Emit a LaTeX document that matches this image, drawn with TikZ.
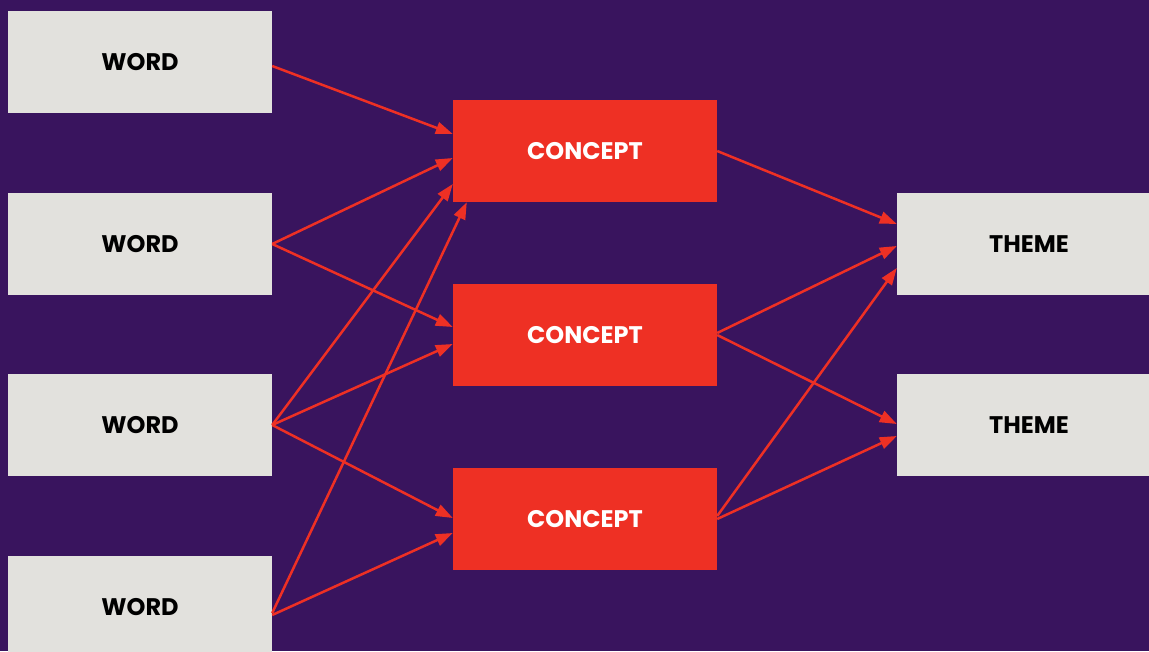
\documentclass[tikz,border=0pt]{standalone}
\usepackage{fontspec}
\setmainfont{Poppins}[BoldFont={Poppins Bold}]
\usetikzlibrary{arrows.meta,calc}
\definecolor{bgpurple}{HTML}{39145E}
\definecolor{linkred}{HTML}{EE3024}
\definecolor{cardgray}{HTML}{E2E1DD}
\tikzset{
  card/.style={rectangle, minimum width=264pt, minimum height=102pt, inner sep=0pt,
    font=\fontsize{24}{28}\selectfont\bfseries},
  wordbox/.style={card, fill=cardgray, text=black},
  conceptbox/.style={card, fill=linkred, text=white},
  themebox/.style={card, fill=cardgray, text=black},
  link/.style={draw=linkred, line width=2.5pt,
    -{Triangle[length=17pt,width=12pt]}}
}
\begin{document}
\begin{tikzpicture}[x=1pt,y=-1pt]
  \fill[bgpurple] (0,0) rectangle (1149,651);
  \useasboundingbox (0,0) rectangle (1149,651);
  \clip (0,0) rectangle (1149,651);

  % source words
  \node[wordbox] (w1) at (140,62) {WORD};
  \node[wordbox] (w2) at (140,244) {WORD};
  \node[wordbox] (w3) at (140,425) {WORD};
  \node[wordbox] (w4) at (140,607) {WORD};

  % concepts
  \node[conceptbox] (c1) at (585,151) {CONCEPT};
  \node[conceptbox] (c2) at (585,335) {CONCEPT};
  \node[conceptbox] (c3) at (585,519) {CONCEPT};

  % themes
  \node[themebox] (t1) at (1029,244) {THEME};
  \node[themebox] (t2) at (1029,425) {THEME};

  % word -> concept links
  \draw[link] ($(w1.east)+(0,4)$) -- ($(c1.west)+(0,-17)$);
  \draw[link] (w2.east) -- ($(c1.west)+(0,7)$);
  \draw[link] (w2.east) -- ($(c2.west)+(0,-8)$);
  \draw[link] (w3.east) -- ($(c1.west)+(0,33)$);
  \draw[link] (w3.east) -- ($(c2.west)+(0,9)$);
  \draw[link] (w3.east) -- ($(c3.west)+(0,-1)$);
  \draw[link] ($(w4.east)+(0,6)$) -- ($(c1.south west)+(14,0)$);
  \draw[link] ($(w4.east)+(0,8)$) -- ($(c3.west)+(0,14)$);

  % concept -> theme links
  \draw[link] (c1.east) -- ($(t1.west)+(0,-20)$);
  \draw[link] ($(c2.east)+(0,-2)$) -- ($(t1.west)+(0,2)$);
  \draw[link] ($(c3.east)+(0,-3)$) -- ($(t1.west)+(0,24)$);
  \draw[link] (c2.east) -- ($(t2.west)+(0,-1)$);
  \draw[link] (c3.east) -- ($(t2.west)+(0,11)$);
\end{tikzpicture}
\end{document}
